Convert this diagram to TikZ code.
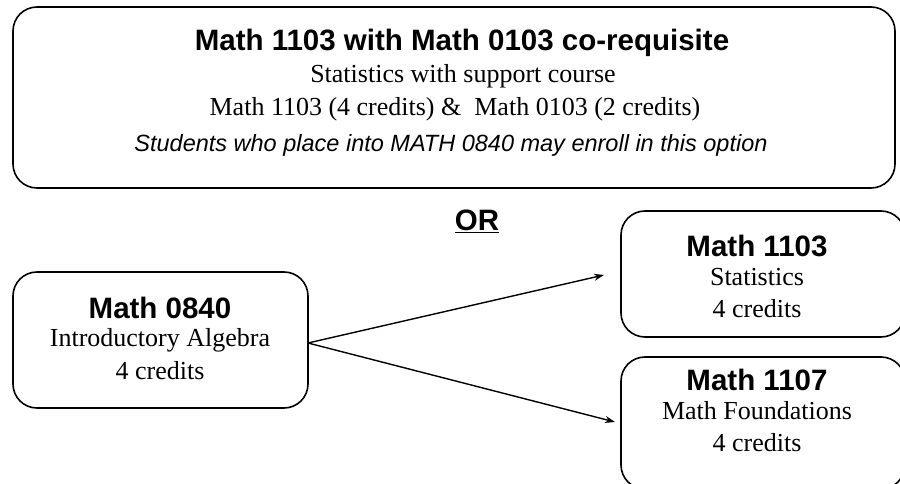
\documentclass[tikz,border=0pt]{standalone}
\usepackage{fontspec}
\setmainfont{Liberation Serif}
\setsansfont{Liberation Sans}
\usetikzlibrary{positioning, arrows.meta}

\tikzset{
  course/.style={draw, line width=1.6pt, rounded corners=24pt, inner sep=0pt},
  title/.style={font=\sffamily\bfseries\fontsize{29.5}{32}\selectfont},
  line/.style={font=\fontsize{26}{30}\selectfont},
  path/.style={-{Stealth[length=10pt, width=7pt]}, line width=1.4pt}
}

\begin{document}
\begin{tikzpicture}[x=1pt, y=-1pt]
\useasboundingbox (0,0) rectangle (900,484);
\clip (0,0) rectangle (900,484);

% boxes
\node (coreq) [course, minimum width=882pt, minimum height=181pt] at (454,97.5) {};
\node (alg) [course, minimum width=295pt, minimum height=136pt] at (160.5,340) {};
\node (stat) [course, minimum width=284pt, minimum height=126pt] at (763,274) {};
\node (found) [course, minimum width=284pt, minimum height=132pt] at (763,423) {};

% texts
\node (coreqtitle) [title] at (462,43) {Math 1103 with Math 0103 co-requisite};
\node (coreqsub) [line] at (463,76) {Statistics with support course};
\node (coreqcred) [line] at (455,109) {Math 1103 (4 credits) \&\ \ Math 0103 (2 credits)};
\node (coreqnote) [font=\sffamily\itshape\fontsize{23.5}{27}\selectfont] at (451,145) {Students who place into MATH 0840 may enroll in this option};

\node (or) [title] at (477,221) {\underline{OR}};

\node (algtitle) [title] at (160,308) {Math 0840};
\node (algname) [line] at (160,340) {Introductory Algebra};
\node (algcred) [line] at (160,371) {4 credits};

\node (stattitle) [title] at (757,246) {Math 1103};
\node (statname) [line] at (757,277) {Statistics};
\node (statcred) [line] at (757,309) {4 credits};

\node (foundtitle) [title] at (757,380) {Math 1107};
\node (foundname) [line] at (757,411) {Math Foundations};
\node (foundcred) [line] at (757,443) {4 credits};

% connectors
\coordinate (split) at (308,343);
\coordinate (statin) at (604,275);
\coordinate (foundin) at (615,422);
\draw[path] (split) -- (statin);
\draw[path] (split) -- (foundin);
\end{tikzpicture}
\end{document}
